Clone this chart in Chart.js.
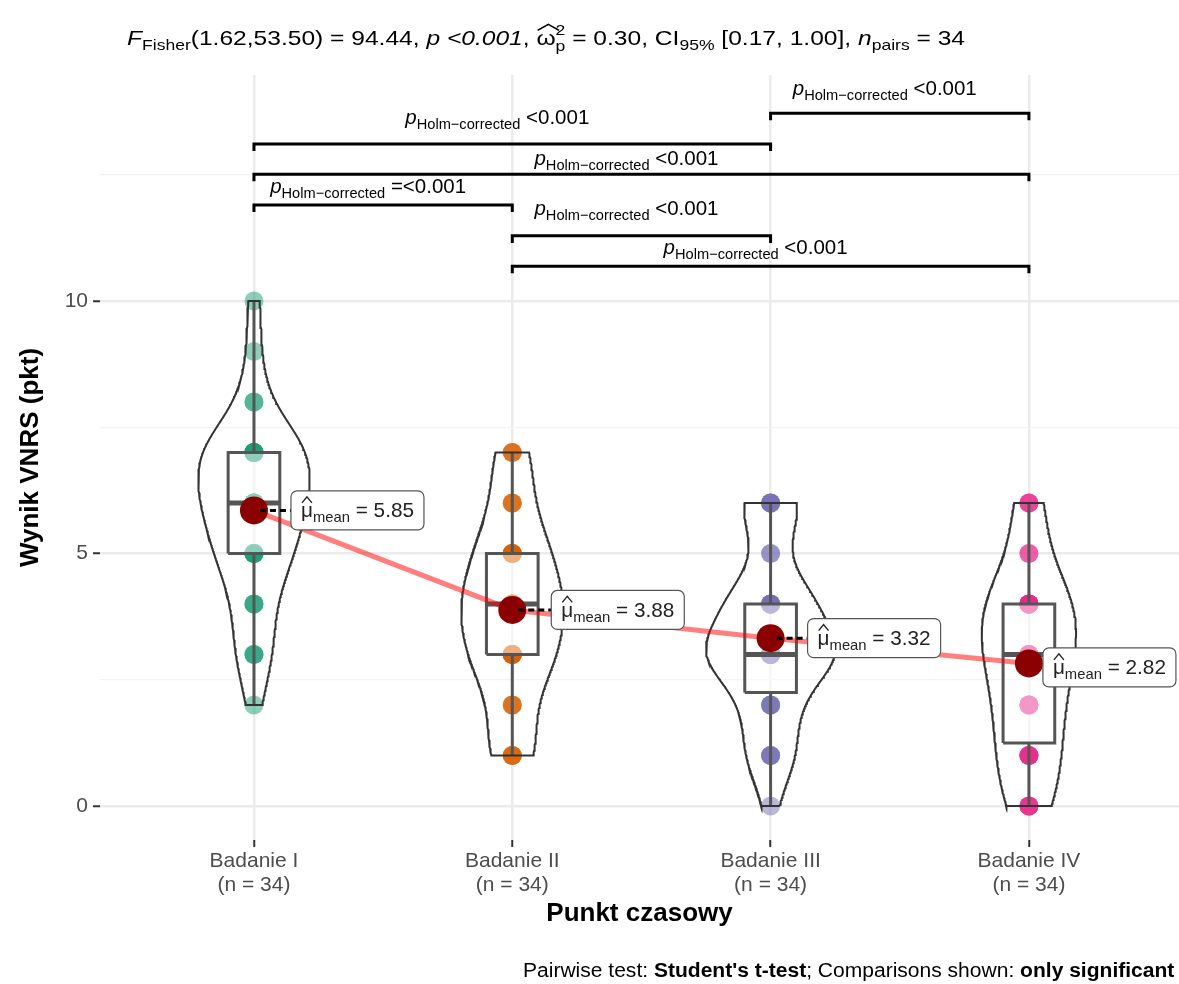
<!DOCTYPE html>
<html><head><meta charset="utf-8">
<script src="https://cdn.jsdelivr.net/npm/chart.js@4.4.1/dist/chart.umd.min.js"></script>
<style>html,body{margin:0;padding:0;background:#fff}</style>
</head><body>
<canvas id="c" width="1179" height="984"></canvas>
<script>
// ---------------- DATA ----------------
const categories = ['Badanie I', 'Badanie II', 'Badanie III', 'Badanie IV'];
const badanie1 = [2, 3,3,3, 4,4,4, 5,5,5,5,5,5, 6,6,6,6,6,6,6,6, 7,7,7,7,7,7,7,7,7, 8,8, 9, 10];
const badanie2 = [1,1,1,1, 2,2,2, 3,3,3,3,3,3,3, 4,4,4,4,4,4,4,4, 5,5,5,5,5,5, 6,6,6, 7,7,7];
const badanie3 = [0, 1,1,1,1, 2,2,2,2, 3,3,3,3,3,3,3,3,3,3,3, 4,4,4,4,4,4,4, 5,5, 6,6,6,6,6];
const badanie4 = [0,0,0,0, 1,1,1,1,1, 2,2,2,2,2, 3,3,3,3,3,3,3, 4,4,4,4,4,4,4,4, 5,5, 6,6,6];
const groupColors = ['#1B9E77', '#D95F02', '#7570B3', '#E7298A'];
const yMajorTicks = [0, 5, 10];
const yMinorTicks = [2.5, 7.5, 12.5];
// significant pairwise comparisons: [group a, group b], bracket height, label
const pairA = [0, 0, 0, 1, 1, 2];
const pairB = [1, 2, 3, 2, 3, 3];
const bracketHeights = [11.90, 13.11, 12.51, 11.29, 10.69, 13.72];
const pairLabels = ['=<0.001', '<0.001', '<0.001', '<0.001', '<0.001', '<0.001'];
const titleStats = {df1: '1.62', df2: '53.50', F: '94.44', p: '<0.001', omega: '0.30', ciLo: '0.17', ciHi: '1.00', nPairs: '34'};

// ---------------- STATS HELPERS ----------------
const groups = [badanie1, badanie2, badanie3, badanie4];
function quant(sorted, p) {
  const h = (sorted.length - 1) * p, lo = Math.floor(h);
  const hi = Math.min(lo + 1, sorted.length - 1);
  return sorted[lo] + (h - lo) * (sorted[hi] - sorted[lo]);
}
function stats(vals) {
  const s = [...vals].sort((a, b) => a - b), n = s.length;
  const mean = s.reduce((a, b) => a + b, 0) / n;
  const sd = Math.sqrt(s.reduce((a, b) => a + (b - mean) ** 2, 0) / (n - 1));
  const q1 = quant(s, 0.25), med = quant(s, 0.5), q3 = quant(s, 0.75), iqr = q3 - q1;
  const lw = s.find(v => v >= q1 - 1.5 * iqr), uw = [...s].reverse().find(v => v <= q3 + 1.5 * iqr);
  const bw = 0.9 * Math.min(sd, iqr / 1.34) * Math.pow(n, -0.2);
  const dens = [];
  const N = 256;
  for (let k = 0; k < N; k++) {
    const y = s[0] + (s[n - 1] - s[0]) * k / (N - 1);
    let d = 0;
    for (const v of s) { const z = (y - v) / bw; d += Math.exp(-0.5 * z * z); }
    dens.push({y, d: d / (n * bw * Math.sqrt(2 * Math.PI))});
  }
  return {mean, q1, med, q3, lw, uw, dens};
}
const st = groups.map(stats);
const maxDens = Math.max(...st.map(g => Math.max(...g.dens.map(p => p.d))));

function rgba(hex, a) {
  const r = parseInt(hex.slice(1, 3), 16), g = parseInt(hex.slice(3, 5), 16), b = parseInt(hex.slice(5, 7), 16);
  return `rgba(${r},${g},${b},${a})`;
}

// ---------------- DATASETS ----------------
const datasets = [];
const lineBase = {showLine: true, pointRadius: 0, pointHoverRadius: 0, pointHitRadius: 0, tension: 0, fill: false};
groups.forEach((vals, i) => {
  datasets.push({data: vals.map(v => ({x: i, y: v})), pointRadius: 9.5, pointBorderWidth: 0,
    backgroundColor: rgba(groupColors[i], 0.5), borderColor: 'rgba(0,0,0,0)', order: 100});
});
const BOX_HALF = 0.1, VIOLIN_HALF = 0.25;
st.forEach((g, i) => {
  datasets.push({...lineBase, data: [{x: i - BOX_HALF, y: g.q1}, {x: i + BOX_HALF, y: g.q1}, {x: i + BOX_HALF, y: g.q3},
    {x: i - BOX_HALF, y: g.q3}, {x: i - BOX_HALF, y: g.q1}], fill: 'shape', backgroundColor: 'rgba(255,255,255,0.5)',
    borderColor: '#555', borderWidth: 3, borderJoinStyle: 'miter', order: 90});
  datasets.push({...lineBase, data: [{x: i - BOX_HALF, y: g.med}, {x: i + BOX_HALF, y: g.med}], borderColor: '#555', borderWidth: 5, order: 89});
  datasets.push({...lineBase, data: [{x: i, y: g.lw}, {x: i, y: g.q1}], borderColor: '#555', borderWidth: 3, order: 88});
  datasets.push({...lineBase, data: [{x: i, y: g.q3}, {x: i, y: g.uw}], borderColor: '#555', borderWidth: 3, order: 88});
  const right = g.dens.map(p => ({x: i + VIOLIN_HALF * p.d / maxDens, y: p.y}));
  const left = g.dens.map(p => ({x: i - VIOLIN_HALF * p.d / maxDens, y: p.y})).reverse();
  datasets.push({...lineBase, data: [...right, ...left, right[0]], borderColor: '#333', borderWidth: 2, order: 80});
});
datasets.push({...lineBase, data: st.map((g, i) => ({x: i, y: g.mean})), borderColor: 'rgba(255,0,0,0.5)', borderWidth: 5, order: 70});
datasets.push({data: st.map((g, i) => ({x: i, y: g.mean})), pointRadius: 14, pointBorderWidth: 0,
  backgroundColor: '#8B0000', borderColor: '#8B0000', order: 60});
const TIP = 0.14;
pairA.forEach((a, k) => {
  const b = pairB[k], h = bracketHeights[k];
  datasets.push({...lineBase, data: [{x: a, y: h - TIP}, {x: a, y: h}, {x: b, y: h}, {x: b, y: h - TIP}],
    borderColor: '#000', borderWidth: 3, order: 50});
});

// ---------------- TEXT HELPERS ----------------
const FAM = '"Liberation Sans", Arial, Helvetica, sans-serif';
function measureRich(ctx, segs) {
  let w = 0; const ws = [];
  for (const s of segs) {
    ctx.font = `${s.style || ''} ${s.size}px ${FAM}`;
    const m = ctx.measureText(s.t).width; ws.push(m);
    if (!s.noAdvance) w += m;
  }
  return {w, ws};
}
function drawRich(ctx, segs, x, y, opt) {
  const {w, ws} = measureRich(ctx, segs);
  const sx = opt.sx || (opt.targetWidth ? opt.targetWidth / w : 1);
  const x0 = opt.align === 'center' ? x - w * sx / 2 : x;
  ctx.save();
  ctx.translate(x0, y); ctx.scale(sx, 1);
  ctx.fillStyle = opt.color || '#000'; ctx.strokeStyle = opt.color || '#000';
  ctx.textBaseline = 'alphabetic'; ctx.textAlign = 'left';
  let cx = 0;
  segs.forEach((s, k) => {
    ctx.font = `${s.style || ''} ${s.size}px ${FAM}`;
    ctx.fillText(s.t, cx, s.dy || 0);
    if (s.hat) {
      const hw = ws[k] + (s.hatExtra || 0);
      const base = -s.size * 0.55 - 3, apex = base - 6;
      ctx.lineWidth = 1.4;
      ctx.beginPath(); ctx.moveTo(cx + 1, base); ctx.lineTo(cx + hw / 2, apex); ctx.lineTo(cx + hw - 1, base); ctx.stroke();
    }
    if (!s.noAdvance) cx += ws[k];
  });
  ctx.restore();
  return {w: w * sx, sx};
}

// ---------------- OVERLAY PLUGIN ----------------
const bracketLabelBaseline = [-12, -20, -9, -21, -12, -18];
const meanLabelDx = [37, 39, 37, 14];
const meanLabelDy = [0, 0, 0, 4];
const overlay = {
  id: 'overlay',
  afterDatasetsDraw(chart) {
    const {ctx, scales: {x, y}} = chart;
    // bracket labels
    const std = [{t: 'p', size: 21, style: 'italic'}, {t: 'Holm\u2212corrected', size: 15, dy: 5}, {t: ' <0.001', size: 21}];
    const sxB = 184 / measureRich(ctx, std).w;
    pairA.forEach((a, k) => {
      const mid = (x.getPixelForValue(a) + x.getPixelForValue(pairB[k])) / 2 - 15;
      const segs = [{t: 'p', size: 21, style: 'italic'}, {t: 'Holm\u2212corrected', size: 15, dy: 5}, {t: ' ' + pairLabels[k], size: 21}];
      drawRich(ctx, segs, mid, y.getPixelForValue(bracketHeights[k]) + bracketLabelBaseline[k], {sx: sxB, align: 'center', color: '#000'});
    });
    // mean labels
    const sample = [{t: 'μ', size: 21}, {t: 'mean', size: 15, dy: 5}, {t: ' = 5.85', size: 21}];
    const sxM = 113 / measureRich(ctx, sample).w;
    st.forEach((g, i) => {
      const px = x.getPixelForValue(i), py = y.getPixelForValue(g.mean);
      const segs = [{t: 'μ', size: 21, hat: true}, {t: 'mean', size: 15, dy: 5}, {t: ' = ' + g.mean.toFixed(2), size: 21}];
      const tw = measureRich(ctx, segs).w * sxM;
      const bx = px + meanLabelDx[i], bh = 39, bw = tw + 20, cy = py + meanLabelDy[i];
      if (meanLabelDx[i] > 20) {
        ctx.save(); ctx.strokeStyle = '#000'; ctx.lineWidth = 3; ctx.setLineDash([6, 4]);
        ctx.beginPath(); ctx.moveTo(px + 6, py); ctx.lineTo(bx, py); ctx.stroke(); ctx.restore();
      }
      ctx.save();
      ctx.fillStyle = '#fff'; ctx.strokeStyle = '#555'; ctx.lineWidth = 1.2;
      ctx.beginPath(); ctx.roundRect(bx, cy - bh / 2, bw, bh, 6); ctx.fill(); ctx.stroke();
      ctx.restore();
      drawRich(ctx, segs, bx + 10, cy + 7, {sx: sxM, color: '#222'});
    });
  },
  afterDraw(chart) {
    const {ctx} = chart;
    const s = titleStats;
    const title = [
      {t: 'F', size: 21, style: 'italic'}, {t: 'Fisher', size: 15, dy: 5},
      {t: `(${s.df1},${s.df2}) = ${s.F}, `, size: 21},
      {t: 'p', size: 21, style: 'italic'}, {t: ' ', size: 21}, {t: s.p, size: 21, style: 'italic'}, {t: ', ', size: 21},
      {t: 'ω', size: 21, hat: true, hatExtra: 4},
      {t: '2', size: 15, dy: -10, noAdvance: true}, {t: 'p', size: 15, dy: 6},
      {t: ` = ${s.omega}, CI`, size: 21}, {t: '95%', size: 15, dy: 5},
      {t: ` [${s.ciLo}, ${s.ciHi}], `, size: 21},
      {t: 'n', size: 21, style: 'italic'}, {t: 'pairs', size: 15, dy: 5}, {t: ` = ${s.nPairs}`, size: 21}
    ];
    drawRich(ctx, title, 127, 45, {targetWidth: 838, color: '#000'});
    const cap = [{t: 'Pairwise test: ', size: 20}, {t: "Student's t-test", size: 20, style: 'bold'},
      {t: '; Comparisons shown: ', size: 20}, {t: 'only significant', size: 20, style: 'bold'}];
    const capRef = [cap[0], cap[1], {t: ';', size: 20}];
    const sxC = 289 / measureRich(ctx, capRef).w;
    drawRich(ctx, cap, 523, 977, {sx: sxC, color: '#000'});
  }
};

// ---------------- CHART ----------------
new Chart(document.getElementById('c'), {
  type: 'scatter',
  data: {datasets},
  options: {
    responsive: false, animation: false, events: [],
    layout: {autoPadding: false, padding: {top: 75, bottom: 44, left: 0, right: 0}},
    plugins: {legend: {display: false}, tooltip: {enabled: false}},
    scales: {
      x: {
        type: 'linear', min: -0.596, max: 3.581,
        afterFit(s) { s.height = 100; s.paddingLeft = 0; s.paddingRight = 0; },
        afterBuildTicks(s) { s.ticks = categories.map((c, i) => ({value: i})); },
        ticks: {autoSkip: false, maxRotation: 0, padding: 2, color: '#4D4D4D',
          font: {family: FAM, size: 21, lineHeight: 1.15},
          callback: v => [categories[v], `(n = ${groups[v].length})`]},
        grid: {color: '#EBEBEB', lineWidth: 2.5, tickColor: '#333', tickWidth: 2, tickLength: 7},
        border: {display: false},
        title: {display: true, text: 'Punkt czasowy', color: '#000', font: {family: FAM, size: 26, weight: 'bold'}, padding: {top: 0, bottom: 11}}
      },
      y: {
        type: 'linear', min: -0.673, max: 14.475,
        afterFit(s) { s.width = 100; s.paddingTop = 0; s.paddingBottom = 0; },
        afterBuildTicks(s) { s.ticks = [...yMajorTicks, ...yMinorTicks].sort((a, b) => a - b).map(v => ({value: v})); },
        ticks: {autoSkip: false, padding: 5, color: '#4D4D4D', font: {family: FAM, size: 21},
          callback: v => yMajorTicks.includes(v) ? String(v) : ''},
        grid: {
          color: c => (c.tick && yMajorTicks.includes(c.tick.value)) ? '#EBEBEB' : '#F3F3F3',
          lineWidth: c => (c.tick && yMajorTicks.includes(c.tick.value)) ? 2.5 : 1.2,
          tickColor: c => (c.tick && yMajorTicks.includes(c.tick.value)) ? '#333' : 'rgba(0,0,0,0)',
          tickWidth: 2, tickLength: 7
        },
        border: {display: false},
        title: {display: true, text: 'Wynik VNRS (pkt)', color: '#000', font: {family: FAM, size: 26, weight: 'bold'}, padding: {top: 15, bottom: 0}}
      }
    }
  },
  plugins: [overlay]
});
</script>
</body></html>
